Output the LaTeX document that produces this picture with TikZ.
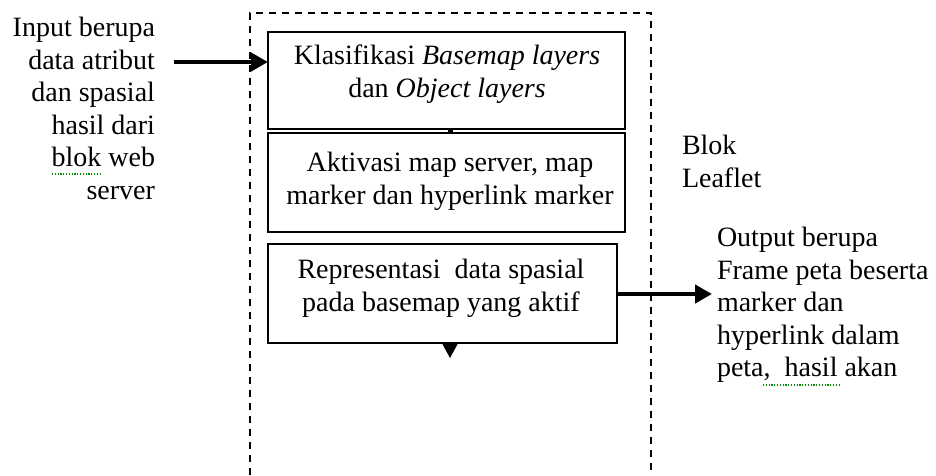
\documentclass[tikz,border=0pt]{standalone}
\usepackage{fontspec}
\setmainfont{Liberation Serif}
\usetikzlibrary{arrows.meta}
\begin{document}
\begin{tikzpicture}[x=1pt,y=-1pt,
  every node/.style={inner sep=0pt, outer sep=0pt},
  txt/.style={font=\fontsize{28}{32.5}\selectfont},
  stepbox/.style={draw, line width=1.5pt, minimum width=#1},
  frame/.style={line width=1.5pt, dash pattern=on 7pt off 6pt},
  bigarrow/.style={line width=4.5pt, -{Triangle[length=17pt,width=18pt]}},
  squiggle/.style={green!55!black, line width=1.2pt, dash pattern=on 1.2pt off 1.6pt}
]
\useasboundingbox (0,0) rectangle (936,475);

% Leaflet block frame (open at the bottom)
\draw[frame] (250,475) -- (250,13) -- (651,13) -- (651,475);

% process boxes
\node[stepbox=357pt, minimum height=97pt] (b1) at (446.5,80.5) {};
\node[stepbox=357pt, minimum height=99pt] (b2) at (446.5,182.5) {};
\node[stepbox=349pt, minimum height=99pt] (b3) at (442.5,293.5) {};

\node[txt, align=center, anchor=north] (t1) at (447,42)
  {\strut Klasifikasi \textit{Basemap layers}\\dan \textit{Object layers}};
\node[txt, align=center, anchor=north] (t2) at (450,149)
  {\strut Aktivasi map server, map\\marker dan hyperlink marker};
\node[txt, align=center, anchor=north] (t3) at (441,256)
  {\strut Representasi\ \ data spasial\\pada basemap yang aktif};

% input and output texts
\node[txt, align=right, anchor=north east] (inp) at (155,14)
  {\strut Input berupa\\data atribut\\dan spasial\\hasil dari\\blok web\\server};
\node[txt, align=left, anchor=north west] (blk) at (682,132)
  {\strut Blok\\Leaflet};
\node[txt, align=left, anchor=north west] (out) at (717,224)
  {\strut Output berupa\\Frame peta beserta\\marker dan\\hyperlink dalam\\peta,\ \ hasil akan};

% spell-check underlines
\draw[squiggle] (52,174) -- (102,174);
\draw[squiggle] (763,385) -- (839,385);

% connectors
\coordinate (inStart) at (174,62);
\draw[bigarrow] (inStart) -- (inStart -| b1.west);

\coordinate (mid) at (450,0);
\draw[line width=5pt] (b1.south -| mid) -- (b2.north -| mid);

\coordinate (outEnd) at (712,294);
\draw[bigarrow] (outEnd -| b3.east) -- (outEnd);

\coordinate (down) at (450,358);
\draw[line width=1pt, -{Triangle[length=15pt,width=16pt]}] (b3.south -| down) -- (down);
\end{tikzpicture}
\end{document}
